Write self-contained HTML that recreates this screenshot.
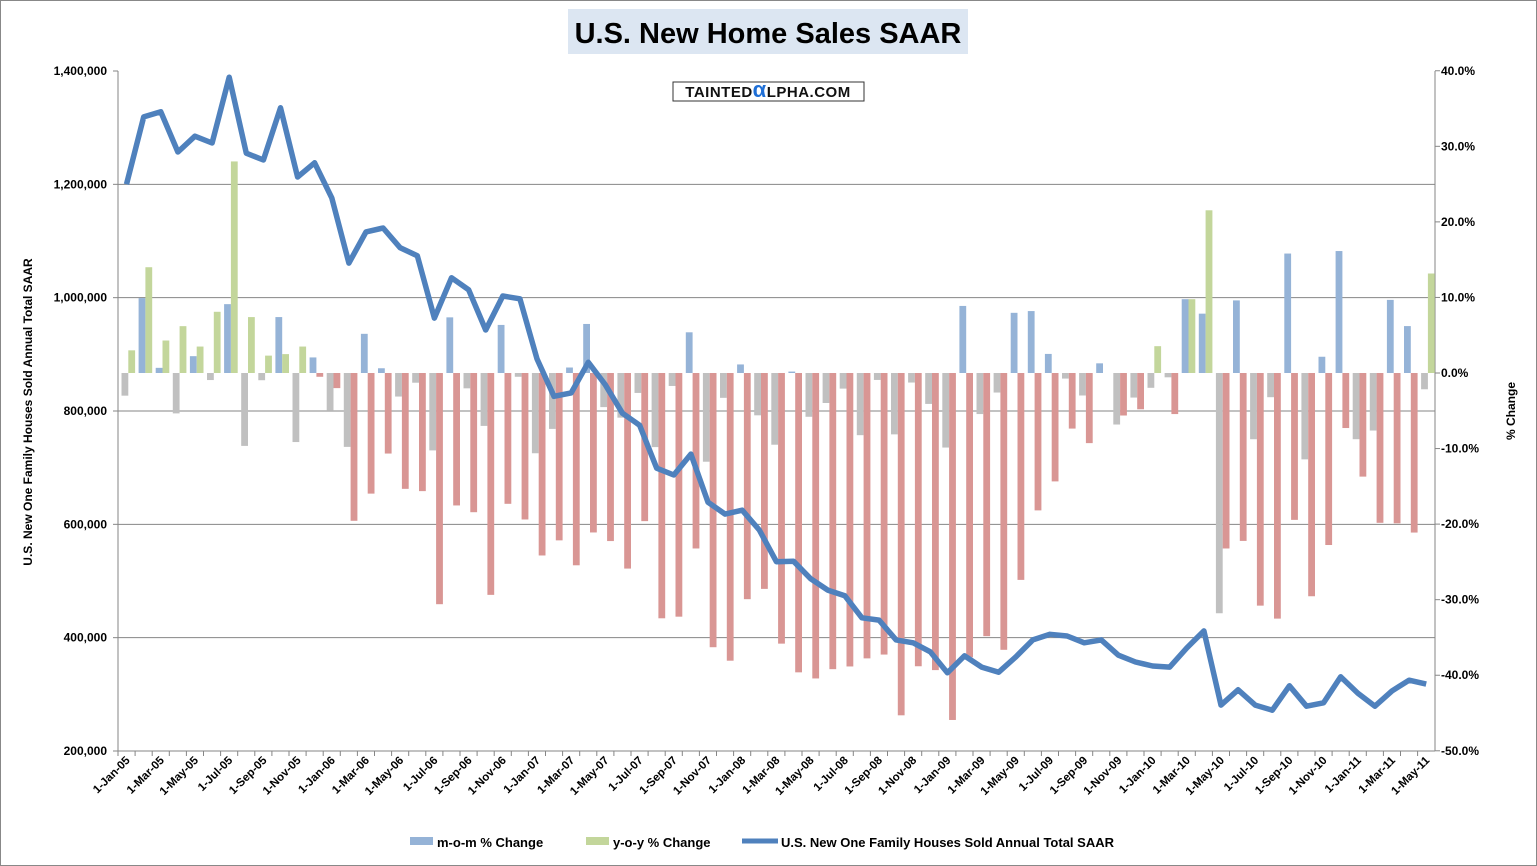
<!DOCTYPE html>
<html><head><meta charset="utf-8"><style>
html,body{margin:0;padding:0;background:#fff;}
svg{display:block;font-family:"Liberation Sans",Arial,sans-serif;}
</style></head><body>
<svg id="c" width="1537" height="866" viewBox="0 0 1537 866" xmlns="http://www.w3.org/2000/svg">
<rect x="0.5" y="0.5" width="1536" height="865" fill="#fff" stroke="#888"/>
<rect x="568" y="9" width="400" height="45" fill="#dce6f2"/>
<text x="768" y="43" text-anchor="middle" font-size="29" font-weight="bold" fill="#000">U.S. New Home Sales SAAR</text>
<g id="grid"></g>
<rect x="673" y="82" width="191" height="19" fill="#fff" stroke="#333"/>
<text x="768" y="97" text-anchor="middle" font-size="15" font-weight="bold" fill="#111" letter-spacing="0.5">TAINTED<tspan fill="#1f6fd6" font-size="22">α</tspan>LPHA.COM</text>
<g id="bars"></g>
<polyline id="line" fill="none" stroke="#4f81bd" stroke-width="5.5" stroke-linejoin="round"/>
<g id="labels" font-size="12" font-weight="bold" fill="#000"></g>
<text transform="translate(32,412) rotate(-90)" text-anchor="middle" font-size="12" font-weight="bold">U.S. New One Family Houses Sold Annual Total SAAR</text>
<text transform="translate(1515,411) rotate(-90)" text-anchor="middle" font-size="12" font-weight="bold">% Change</text>
<rect x="410" y="837" width="23" height="8" fill="#95b3d7"/>
<text x="437" y="847" font-size="13" font-weight="bold">m-o-m % Change</text>
<rect x="586" y="837" width="23" height="8" fill="#c3d69b"/>
<text x="613" y="847" font-size="13" font-weight="bold">y-o-y % Change</text>
<line x1="742" y1="841" x2="778" y2="841" stroke="#4f81bd" stroke-width="5"/>
<text x="781" y="847" font-size="13" font-weight="bold">U.S. New One Family Houses Sold Annual Total SAAR</text>
</svg>
<script>
var v=[1200,1319,1328,1257,1285,1273,1389,1255,1243,1335,1213,1238,1176,1061,1116,1123,1088,1074,964,1035,1014,943,1003,998,892,826,832,886,846,796,775,699,687,724,639,618,625,590,534,535,504,484,474,435,431,396,391,375,338,368,348,339,366,396,406,403,391,396,369,357,350,348,382,412,281,308,281,272,315,279,285,331,302,279,306,325,318];
var yoy0=[3,14,4.3,6.2,3.5,8.1,28,7.4,2.3,2.5,3.5,-0.5];
var NS="http://www.w3.org/2000/svg";
function el(t,a,p){var e=document.createElementNS(NS,t);for(var k in a)e.setAttribute(k,a[k]);p.appendChild(e);return e;}
var L=118,R=1435,T=71,B=751,W=17.1;
var grid=document.getElementById('grid'),lab=document.getElementById('labels'),bars=document.getElementById('bars');
for(var i=0;i<=6;i++){var y=T+i*(B-T)/6;if(i>0&&i<6)el('line',{x1:L,x2:R,y1:y,y2:y,stroke:'#868686','stroke-width':1},grid);
var t=el('text',{x:107,y:y+4,'text-anchor':'end'},lab);t.textContent=(1400000-i*200000).toLocaleString('en-US');}
el('line',{x1:L,x2:L,y1:T,y2:B,stroke:'#868686'},grid);el('line',{x1:R,x2:R,y1:T,y2:B,stroke:'#868686'},grid);
el('line',{x1:L,x2:R,y1:B,y2:B,stroke:'#868686'},grid);
for(var p=40;p>=-50;p-=10){var y=373-p*7.556;var t=el('text',{x:1441,y:y+4},lab);t.textContent=p.toFixed(1)+'%';
el('line',{x1:R,x2:R+5,y1:y,y2:y,stroke:'#868686'},grid);}
for(var i=0;i<=6;i++){var y=T+i*(B-T)/6;el('line',{x1:L-5,x2:L,y1:y,y2:y,stroke:'#868686'},grid);}
var mon=['Jan','Feb','Mar','Apr','May','Jun','Jul','Aug','Sep','Oct','Nov','Dec'];
function py(p){return 373-p*7.556;}
var pts=[];
for(var i=0;i<v.length;i++){
 var xc=L+W*(i+0.5);
 pts.push(xc.toFixed(1)+','+(T+(1400-v[i])/1.7647).toFixed(1));
 var m=i==0?-3:(v[i]/v[i-1]-1)*100;
 var yy=i<12?yoy0[i]:(v[i]/v[i-12]-1)*100;
 var x0=L+W*i+3.5;
 var y1=py(m);el('rect',{x:x0,y:Math.min(y1,373),width:6.8,height:Math.abs(y1-373),fill:m>=0?'#95b3d7':'#c0c0c0'},bars);
 var y2=py(yy);el('rect',{x:x0+6.8,y:Math.min(y2,373),width:6.8,height:Math.abs(y2-373),fill:yy>=0?'#c3d69b':'#d99694'},bars);
 el('line',{x1:L+W*i,x2:L+W*i,y1:B,y2:B+5,stroke:'#868686'},grid);
 if(i%2==0){var yr=5+Math.floor(i/12);var s='1-'+mon[i%12]+'-'+(yr<10?'0':'')+yr;
 var t=el('text',{transform:'translate('+(xc+4)+','+(B+10)+') rotate(-45)','text-anchor':'end','font-size':'11.5'},lab);t.textContent=s;}
}
document.getElementById('line').setAttribute('points',pts.join(' '));
</script>
</body></html>
